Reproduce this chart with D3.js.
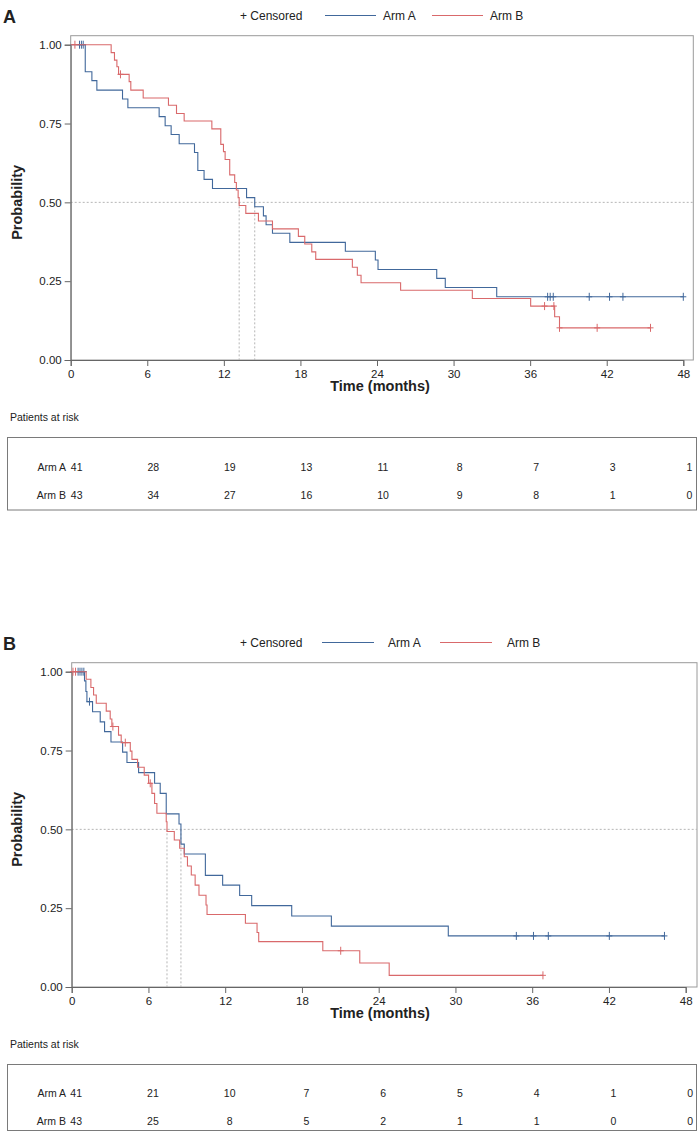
<!DOCTYPE html>
<html>
<head>
<meta charset="utf-8">
<script src="https://cdn.jsdelivr.net/npm/d3@7"></script>
<style>
  html, body { margin: 0; padding: 0; background: #fff; }
  svg { display: block; font-family: "Liberation Sans", Arial, sans-serif; }
</style>
</head>
<body>
<svg id="chart" width="700" height="1139"></svg>
<script>
// ---------- DATA ----------
const armNames = ["Arm A", "Arm B"];
const xTicks = [0, 6, 12, 18, 24, 30, 36, 42, 48];
const yTicks = [0, 0.25, 0.5, 0.75, 1.0];
const riskTimes = [0, 6, 12, 18, 24, 30, 36, 42, 48];

// Panel A — Arm A
const panelA_armA_time = [1.14, 1.66, 2.05, 4.06, 4.48, 6.93, 7.40, 7.87, 8.50, 9.70, 9.96, 10.45, 11.11, 13.78, 14.42, 15.10, 15.31, 15.81, 17.17, 21.52, 23.87, 24.08, 28.68, 29.35, 33.38];
const panelA_armA_surv = [0.914, 0.886, 0.856, 0.828, 0.800, 0.772, 0.743, 0.715, 0.686, 0.658, 0.601, 0.573, 0.544, 0.515, 0.486, 0.457, 0.429, 0.402, 0.373, 0.345, 0.317, 0.287, 0.259, 0.230, 0.2005];
const panelA_armA_censor = [0.69, 0.84, 0.98, 37.37, 37.57, 37.81, 40.63, 42.22, 43.27, 48.0];
// Panel A — Arm B
const panelA_armB_time = [3.17, 3.43, 3.62, 3.75, 4.58, 4.71, 5.68, 7.66, 8.29, 8.89, 11.06, 11.76, 11.97, 12.10, 12.46, 12.85, 12.98, 13.12, 13.20, 13.72, 14.71, 15.81, 17.84, 18.34, 18.89, 19.20, 22.07, 22.46, 22.75, 25.85, 31.47, 36.04, 37.92, 38.30];
const panelA_armB_surv = [0.975, 0.951, 0.930, 0.906, 0.883, 0.856, 0.831, 0.808, 0.782, 0.758, 0.733, 0.684, 0.661, 0.636, 0.587, 0.563, 0.539, 0.515, 0.490, 0.465, 0.441, 0.416, 0.392, 0.368, 0.343, 0.319, 0.294, 0.269, 0.245, 0.221, 0.195, 0.171, 0.137, 0.102];
const panelA_armB_censor = [0.33, 3.90, 37.13, 37.86, 38.30, 41.25, 45.43];
const panelA_riskArmA = [41, 28, 19, 13, 11, 8, 7, 3, 1];
const panelA_riskArmB = [43, 34, 27, 16, 10, 9, 8, 1, 0];

// Panel B — Arm A
const panelB_armA_time = [1.00, 1.11, 1.19, 1.63, 2.23, 2.57, 3.07, 3.98, 4.32, 5.23, 6.48, 6.92, 7.39, 8.39, 8.54, 8.80, 10.45, 11.80, 13.13, 14.07, 17.20, 20.30, 29.44];
const panelB_armA_surv = [0.971, 0.937, 0.905, 0.873, 0.841, 0.810, 0.777, 0.745, 0.712, 0.680, 0.646, 0.614, 0.549, 0.517, 0.453, 0.422, 0.354, 0.323, 0.290, 0.258, 0.225, 0.193, 0.162];
const panelB_armA_censor = [0.50, 0.65, 0.80, 0.95, 1.39, 34.76, 36.10, 37.26, 42.03, 46.34];
// Panel B — Arm B
const panelB_armB_time = [1.13, 1.50, 1.71, 1.92, 2.70, 3.01, 3.14, 3.66, 3.87, 4.58, 4.71, 5.15, 5.67, 6.01, 6.27, 6.48, 6.66, 7.39, 7.45, 8.02, 8.44, 8.80, 9.05, 9.35, 9.65, 9.95, 10.50, 10.58, 13.58, 14.49, 14.62, 19.63, 22.52, 24.82];
const panelB_armB_surv = [0.976, 0.950, 0.926, 0.900, 0.875, 0.850, 0.826, 0.799, 0.775, 0.748, 0.722, 0.697, 0.672, 0.646, 0.614, 0.582, 0.551, 0.524, 0.493, 0.466, 0.440, 0.413, 0.384, 0.355, 0.323, 0.291, 0.260, 0.230, 0.202, 0.173, 0.144, 0.115, 0.076, 0.037];
const panelB_armB_censor = [0.10, 0.30, 3.22, 4.19, 6.14, 21.03, 36.84];
const panelB_riskArmA = [41, 21, 10, 7, 6, 5, 4, 1, 0];
const panelB_riskArmB = [43, 25, 8, 5, 2, 1, 1, 0, 0];

// ---------- STYLE ----------
const colA = "#41689b";
const colB = "#d9696b";
const textCol = "#222";

const svg = d3.select("#chart");

function stepValue(times, surv, t) {
  let p = 1;
  for (let i = 0; i < times.length; i++) { if (times[i] <= t) p = surv[i]; }
  return p;
}

function drawPanel(cfg) {
  const g = svg.append("g").attr("transform", `translate(0,${cfg.dy})`);
  const x = d3.scaleLinear().domain([0, 48]).range([cfg.x0, cfg.x1]);
  const y = d3.scaleLinear().domain([0, 1]).range([360, 44.7]);

  // panel letter
  g.append("text").attr("x", 3).attr("y", 23).attr("font-size", 18).attr("font-weight", "bold")
    .attr("fill", textCol).text(cfg.letter);

  // legend
  const leg = g.append("g").attr("font-size", 12).attr("fill", textCol);
  leg.append("text").attr("x", 240).attr("y", 20).text("+ Censored");
  leg.append("line").attr("x1", cfg.legLineA[0]).attr("x2", cfg.legLineA[1]).attr("y1", 15.5).attr("y2", 15.5)
    .attr("stroke", colA).attr("stroke-width", 1);
  leg.append("text").attr("x", cfg.legTextA).attr("y", 20).text(armNames[0]);
  leg.append("line").attr("x1", cfg.legLineB[0]).attr("x2", cfg.legLineB[1]).attr("y1", 15.5).attr("y2", 15.5)
    .attr("stroke", colB).attr("stroke-width", 1);
  leg.append("text").attr("x", cfg.legTextB).attr("y", 20).text(armNames[1]);

  // frame
  g.append("rect").attr("x", cfg.x0).attr("y", 35.7).attr("width", cfg.frameRight - cfg.x0).attr("height", 360 - 35.7)
    .attr("fill", "none").attr("stroke", "#9a9a9a").attr("stroke-width", 1);

  // reference line at 0.5
  g.append("line").attr("x1", cfg.x0).attr("x2", cfg.frameRight).attr("y1", y(0.5)).attr("y2", y(0.5))
    .attr("stroke", "#b5b5b5").attr("stroke-width", 1).attr("stroke-dasharray", "2,2");

  // axes
  const xAxis = g.append("g").attr("transform", "translate(0,360)")
    .call(d3.axisBottom(x).tickValues(xTicks).tickSize(6).tickPadding(4).tickFormat(d3.format("d")));
  const yAxis = g.append("g").attr("transform", `translate(${cfg.x0},0)`)
    .call(d3.axisLeft(y).tickValues(yTicks).tickSize(6).tickPadding(3).tickFormat(d3.format(".2f")));
  [xAxis, yAxis].forEach(a => {
    a.select(".domain").attr("stroke", "#666");
    a.selectAll(".tick line").attr("stroke", "#666");
    a.selectAll(".tick text").attr("font-size", 11.5).attr("fill", textCol)
      .attr("font-family", "Liberation Sans, Arial, sans-serif");
  });

  g.append("text").attr("x", 380).attr("y", 391).attr("text-anchor", "middle").attr("font-size", 14.5)
    .attr("font-weight", "bold").attr("fill", textCol).text("Time (months)");
  g.append("text").attr("transform", `translate(22,${y(0.5)}) rotate(-90)`).attr("text-anchor", "middle")
    .attr("font-size", 14.5).attr("font-weight", "bold").attr("fill", textCol).text("Probability");

  // curves
  const line = d3.line().x(d => x(d[0])).y(d => y(d[1])).curve(d3.curveStepAfter);
  cfg.arms.forEach(arm => {
    const endT = Math.max(d3.max(arm.time), d3.max(arm.censor));
    const pts = [[0, 1]];
    arm.time.forEach((t, i) => pts.push([t, arm.surv[i]]));
    pts.push([endT, arm.surv[arm.surv.length - 1]]);
    // median
    const idx = arm.surv.findIndex(p => p <= 0.5);
    if (idx >= 0) {
      const mt = arm.time[idx];
      g.append("line").attr("x1", x(mt)).attr("x2", x(mt)).attr("y1", y(0.5)).attr("y2", y(0))
        .attr("stroke", "#b5b5b5").attr("stroke-width", 1).attr("stroke-dasharray", "2,2");
    }
    g.append("path").datum(pts).attr("d", line).attr("fill", "none").attr("stroke", arm.color)
      .attr("stroke-width", 1.1);
    const cens = arm.censor.map(t => [t, stepValue(arm.time, arm.surv, t)]);
    g.selectAll(null).data(cens).enter().append("path")
      .attr("d", d => { const cx = x(d[0]), cy = y(d[1]);
        return `M${cx},${cy - 4}V${cy + 4}M${cx - 3},${cy}H${cx + 3}`; })
      .attr("stroke", arm.color).attr("stroke-width", 1).attr("fill", "none");
  });

  // at-risk table
  g.append("text").attr("x", 10).attr("y", 421).attr("font-size", 10.5).attr("fill", textCol).text("Patients at risk");
  g.append("rect").attr("x", 7.5).attr("y", 437.5).attr("width", 689).attr("height", cfg.boxH)
    .attr("fill", "none").attr("stroke", "#7a7a7a").attr("stroke-width", 1);
  const rows = [cfg.riskA, cfg.riskB];
  rows.forEach((vals, r) => {
    const yy = 471 + r * 28 + cfg.rowShift;
    g.append("text").attr("x", 66).attr("y", yy).attr("text-anchor", "end").attr("font-size", 10.5)
      .attr("fill", textCol).text(armNames[r]);
    g.selectAll(null).data(vals).enter().append("text")
      .attr("x", (d, i) => x(riskTimes[i]) + cfg.riskOff).attr("y", yy).attr("text-anchor", "middle")
      .attr("font-size", 10.5).attr("fill", textCol).text(d => d);
  });
}

drawPanel({
  letter: "A", dy: 0, x0: 70.7, x1: 683.3, frameRight: 693.3,
  legLineA: [325, 376], legTextA: 383, legLineB: [432, 483], legTextB: 490,
  boxH: 72.5, rowShift: 0, riskOff: 6,
  arms: [
    { time: panelA_armA_time, surv: panelA_armA_surv, censor: panelA_armA_censor, color: colA },
    { time: panelA_armB_time, surv: panelA_armB_surv, censor: panelA_armB_censor, color: colB }
  ],
  riskA: panelA_riskArmA, riskB: panelA_riskArmB
});

drawPanel({
  letter: "B", dy: 627, x0: 71.7, x1: 685.7, frameRight: 697,
  legLineA: [322, 374], legTextA: 388, legLineB: [440, 492], legTextB: 507,
  boxH: 66, rowShift: -1, riskOff: 4.5,
  arms: [
    { time: panelB_armA_time, surv: panelB_armA_surv, censor: panelB_armA_censor, color: colA },
    { time: panelB_armB_time, surv: panelB_armB_surv, censor: panelB_armB_censor, color: colB }
  ],
  riskA: panelB_riskArmA, riskB: panelB_riskArmB
});
</script>
</body>
</html>
